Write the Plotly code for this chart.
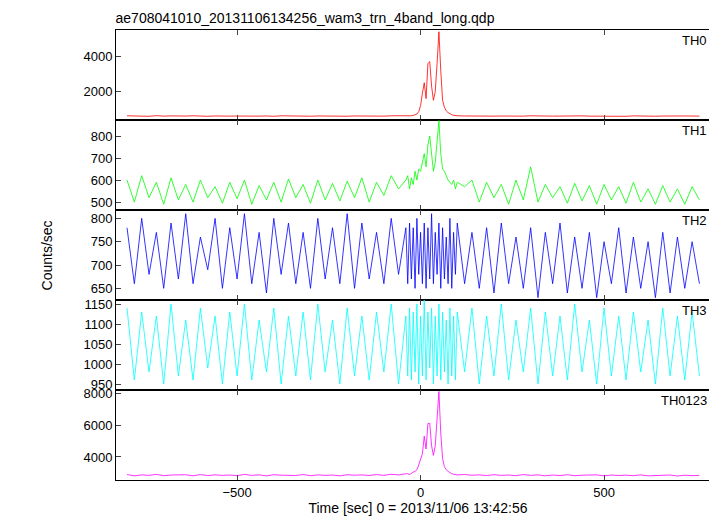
import plotly.graph_objects as go
from plotly.subplots import make_subplots

# time grid (sec): coarse outside the burst, finer across it
time = list(range(-800, -39, 20)) + list(range(-35, 101, 5)) + list(range(120, 761, 20))

th0 = [620,600,610,590,630,600,615,595,605,620,600,590,610,625,600,605,595,615,600,610,590,620,605,600,615,595,610,600,620,605,595,610,600,615,605,600,620,610,605,
       610,600,620,640,660,720,850,1200,1900,2500,1600,3600,3700,2300,1500,2000,3600,5400,3200,1500,1100,900,800,720,680,650,630,620,
       610,600,595,615,600,605,590,610,600,620,595,605,600,610,590,605,615,600,595,610,600,605,590,615,600,610,595,605,620,600,610,605,600]
th1 = [600,500,620,520,590,490,610,510,580,500,600,520,570,495,590,515,600,490,575,510,590,500,605,520,580,495,600,510,585,505,595,520,610,500,590,530,620,560,600,
       620,560,610,580,640,600,650,640,680,720,660,760,800,700,640,680,780,870,720,650,640,620,600,590,580,600,560,590,
       570,600,500,590,520,580,490,600,510,660,500,580,520,570,495,585,505,575,490,580,510,570,495,590,500,560,490,575,500,560,490,570,510]
th2 = [780,660,800,680,770,650,790,670,810,660,760,690,800,650,780,670,810,660,770,640,800,680,790,660,770,650,800,670,780,660,810,650,790,670,770,660,800,680,780,
       660,790,670,780,650,800,680,770,660,790,650,780,670,810,660,770,680,790,650,780,670,760,660,800,650,770,680,790,
       660,770,650,780,640,790,660,760,650,780,630,770,660,790,640,760,650,770,630,750,660,780,640,760,650,750,630,770,640,760,650,750,660]
th3 = [1140,960,1130,980,1120,950,1150,970,1110,960,1140,990,1120,950,1130,970,1150,960,1110,980,1140,950,1120,970,1130,960,1150,980,1110,950,1140,970,1120,960,1130,980,1150,950,1120,
       970,1140,960,1130,980,1150,950,1120,970,1160,960,1130,990,1140,950,1120,970,1150,960,1130,980,1110,950,1140,970,1120,960,1130,
       980,1140,950,1120,970,1150,960,1110,980,1140,950,1130,970,1120,960,1150,980,1110,950,1140,970,1120,960,1130,980,1110,950,1140,970,1120,960,1130,970]
th0123 = [2900,2820,2880,2850,2910,2830,2870,2860,2890,2820,2900,2840,2880,2850,2870,2830,2910,2850,2880,2820,2890,2860,2870,2840,2900,2830,2880,2850,2870,2820,2890,2860,2880,2840,2900,2850,2920,2880,2950,
          2950,2900,3000,3050,3100,3200,3500,3900,4200,5300,4500,6100,6100,4700,4100,4700,6200,8100,5500,3900,3400,3200,3100,3000,2950,2920,2900,2880,
          2900,2860,2880,2840,2890,2850,2870,2830,2900,2850,2880,2820,2870,2840,2890,2830,2860,2850,2880,2820,2870,2840,2860,2830,2880,2820,2850,2840,2870,2810,2860,2830,2850]

names = ['TH0', 'TH1', 'TH2', 'TH3', 'TH0123']
series = [th0, th1, th2, th3, th0123]
colors = ['#ff0000', '#00ff00', '#0000ff', '#00ffff', '#ff00ff']
yranges = [[380, 5500], [464, 873], [625, 818], [935, 1160], [2560, 8190]]
yticks = [[2000, 4000], [500, 600, 700, 800], [650, 700, 750, 800],
          [950, 1000, 1050, 1100, 1150], [4000, 6000, 8000]]

fig = make_subplots(rows=5, cols=1, shared_xaxes=True, vertical_spacing=0)
for i, (nm, ys) in enumerate(zip(names, series)):
    assert len(ys) == len(time), nm
    fig.add_trace(go.Scatter(x=time, y=ys, mode='lines', line=dict(color=colors[i], width=0.8),
                             showlegend=False), row=i + 1, col=1)
    fig.update_yaxes(range=yranges[i], tickvals=yticks[i], row=i + 1, col=1)
    yref = 'y domain' if i == 0 else f'y{i + 1} domain'
    fig.add_annotation(x=0.982, y=0.99, xref='paper', yref=yref, text=nm, showarrow=False,
                       xanchor='right', yanchor='top', font=dict(size=13, color='black'))

axstyle = dict(showline=True, linecolor='black', mirror='ticks', ticks='inside', ticklen=5,
               showgrid=False, zeroline=False, tickfont=dict(size=13, color='black'))
fig.update_xaxes(range=[-830, 816], tickvals=[-500, 0, 500], **axstyle)
fig.update_yaxes(**axstyle)
fig.update_xaxes(title_text='Time [sec] 0 = 2013/11/06 13:42:56', title_font=dict(size=14, color='black'),
                 title_standoff=0, row=5, col=1)

fig.add_annotation(x=-0.13, y=0.5, xref='paper', yref='paper', text='Counts/sec', textangle=-90,
                   showarrow=False, font=dict(size=14, color='black'))
fig.update_layout(width=717, height=516, plot_bgcolor='white', paper_bgcolor='white',
                  margin=dict(l=108, r=5, t=22, b=44),
                  font=dict(family='Liberation Sans, Arial, sans-serif'),
                  title=dict(text='ae708041010_20131106134256_wam3_trn_4band_long.qdp', x=0.15, xanchor='left',
                             y=0.99, yanchor='top', font=dict(size=14, color='black')))
fig.write_html('out.html')
